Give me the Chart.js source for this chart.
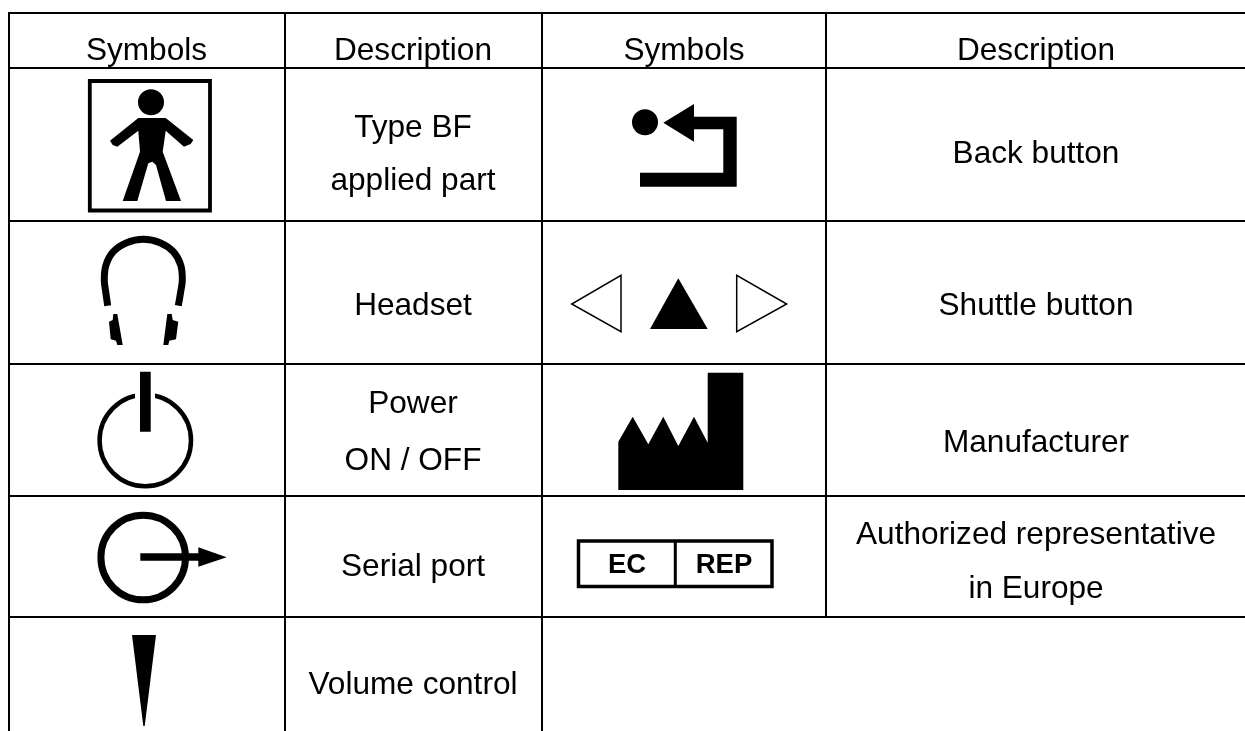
<!DOCTYPE html>
<html>
<head>
<meta charset="utf-8">
<style>html,body{margin:0;padding:0;background:#fff}canvas{display:block}</style>
<script src="https://cdn.jsdelivr.net/npm/chart.js@4"></script>
</head>
<body>
<div style="width:1245px;height:731px"><canvas id="c"></canvas></div>
<script>
// ---- table text ----
const headerLabels = ['Symbols', 'Description', 'Symbols', 'Description'];
const leftDescriptions = [['Type BF', 'applied part'], ['Headset'], ['Power', 'ON / OFF'], ['Serial port'], ['Volume control']];
const rightDescriptions = [['Back button'], ['Shuttle button'], ['Manufacturer'], ['Authorized representative', 'in Europe']];
const repLabels = ['EC', 'REP'];

// ---- table structure, in picture units ----
const columnCentres = [146.5, 413, 684, 1036];
const headerBaseline = [60];
const leftBaselines = [[137, 190], [314.5], [413, 470], [576], [694]];
const rightBaselines = [[162.5], [314.5], [452], [544, 598]];
const repCentres = [627, 724];
const repBaseline = 572.5;

const rowRules = [13, 68, 221, 364, 496, 617];
const ruleLeft = 8, ruleRight = 1245;
const fullColumnRules = [9, 285, 542];
const partColumnRule = 826;
const ruleTop = 12, tableBottom = 731, partRuleBottom = 617;

// ---- symbols, in picture units ----
const personBox = [[150,81],[210,81],[210,210.5],[89.8,210.5],[89.8,81],[150,81],[160,81]];
const personHead = [[151,102.3]];
const personBody = [[138.3,118],[165.7,118],[193.3,140],[190.7,144],[184,146.7],[165.7,130.7],[162.7,151.7],[181,201],[166,201],[156,165],[152.3,161.7],[148.3,163.3],[137.3,201],[122.7,201],[140,151.7],[138.3,130.7],[117.3,146.7],[112.7,145],[110,140.7],[138.3,118]];
const headsetBand = [[107.7,305.7],[105.7,291.7],[104.3,280],[106,265],[113.3,251.7],[126.7,242.7],[143.3,239.3],[160,242.7],[173.3,251.7],[180.7,265],[182.3,280],[180.7,291.7],[178.3,305.7]];
const headsetLeft = [[113.3,314],[117.3,314],[122.7,345],[117.3,345],[116,340.7],[110.7,339.3],[109,321.7],[112.7,320],[113.3,314]];
const headsetRight = [[167.3,314],[171.7,314],[172.7,320],[178.3,321.7],[176,339.3],[169.3,340.7],[168.3,345],[163.3,345],[167.3,314]];
const powerRing = [[145.3,440.5]];
const powerGap = [[135,388],[155,388],[155,406],[135,406],[135,388]];
const powerBar = [[140,371.7],[150.7,371.7],[150.7,431.7],[140,431.7],[140,371.7]];
const serialRing = [[143.2,557.5]];
const serialShaft = [[140.3,553.3],[200,553.3],[200,560.7],[140.3,560.7],[140.3,553.3]];
const serialHead = [[198.3,547.3],[226.7,557.3],[198.3,566.7],[198.3,547.3]];
const volumeWedge = [[132,635],[156,635],[144.7,726],[143.3,726],[132,635]];
const backDot = [[645,122.3]];
const backHead = [[663.3,122.7],[694,104],[694,141.7],[663.3,122.7]];
const backPath = [[694,116.7],[736.7,116.7],[736.7,186.7],[640,186.7],[640,172.7],[723.3,172.7],[723.3,129.3],[694,129.3],[694,116.7]];
const shuttleLeft = [[621,300],[621,331.7],[571.7,304],[621,275.3],[621,300],[621,310]];
const shuttleUp = [[678.3,278.3],[707.7,329],[650,329],[678.3,278.3]];
const shuttleRight = [[736.7,300],[736.7,275.3],[786.7,304],[736.7,331.7],[736.7,300],[736.7,290]];
const factory = [[618.3,490],[618.3,441.7],[632.7,416.7],[648.3,444.3],[663.3,416.7],[678.3,446],[694,416.7],[707.7,442.7],[707.7,372.7],[743.3,372.7],[743.3,490],[618.3,490]];
const repBox = [[630,541],[772,541],[772,586.5],[578.5,586.5],[578.5,541],[630,541],[640,541]];
const repDivider = [[675.3,541],[675.3,586.5]];

const pts = a => a.map(p => ({x: p[0], y: p[1]}));
const base = {showLine: true, pointRadius: 0, pointHoverRadius: 0, borderColor: '#000', fill: false, tension: 0, clip: false};
const stroke = (a, w, extra) => Object.assign({}, base, {data: pts(a), borderWidth: w, borderCapStyle: 'butt', borderJoinStyle: 'miter'}, extra || {});
const solid = (a, colour) => Object.assign({}, base, {data: pts(a), borderWidth: 0, backgroundColor: colour || '#000', fill: 'shape'});
const disc = (a, r) => Object.assign({}, base, {data: pts(a), showLine: false, pointRadius: r, pointBackgroundColor: '#000', pointBorderColor: '#000', pointBorderWidth: 0});
const ring = (a, r, w) => Object.assign({}, base, {data: pts(a), showLine: false, pointRadius: r, pointBackgroundColor: 'rgba(0,0,0,0)', pointBorderColor: '#000', pointBorderWidth: w});

const rules = [];
rowRules.forEach(y => rules.push(stroke([[ruleLeft, y], [ruleRight, y]], 2)));
fullColumnRules.forEach(x => rules.push(stroke([[x, ruleTop], [x, tableBottom]], 2)));
rules.push(stroke([[partColumnRule, ruleTop], [partColumnRule, partRuleBottom]], 2));

const painted = rules.concat([
  stroke(personBox, 3.8), disc(personHead, 13), solid(personBody),
  stroke(headsetBand, 7, {tension: 0.4}), solid(headsetLeft), solid(headsetRight),
  ring(powerRing, 45.7, 4.5), solid(powerGap, '#fff'), solid(powerBar),
  ring(serialRing, 42.3, 7), solid(serialShaft), solid(serialHead),
  solid(volumeWedge),
  disc(backDot, 13), solid(backHead), solid(backPath),
  stroke(shuttleLeft, 1.5), solid(shuttleUp), stroke(shuttleRight, 1.5),
  solid(factory),
  stroke(repBox, 3.5), stroke(repDivider, 3)
]);

const tableText = {
  id: 'tableText',
  afterDatasetsDraw(chart) {
    const {ctx, scales: {x, y}} = chart;
    ctx.save();
    ctx.fillStyle = '#000';
    ctx.textAlign = 'center';
    ctx.textBaseline = 'alphabetic';
    ctx.font = '31.6px "Liberation Sans", Arial, sans-serif';
    const put = (t, cx, by) => ctx.fillText(t, x.getPixelForValue(cx), y.getPixelForValue(by));
    headerLabels.forEach((t, i) => put(t, columnCentres[i], headerBaseline[0]));
    leftDescriptions.forEach((lines, r) => lines.forEach((t, i) => put(t, columnCentres[1], leftBaselines[r][i])));
    rightDescriptions.forEach((lines, r) => lines.forEach((t, i) => put(t, columnCentres[3], rightBaselines[r][i])));
    ctx.font = 'bold 27.5px "Liberation Sans", Arial, sans-serif';
    repLabels.forEach((t, i) => put(t, repCentres[i], repBaseline));
    ctx.restore();
  }
};

new Chart(document.getElementById('c'), {
  type: 'scatter',
  data: {datasets: painted.slice().reverse()},
  plugins: [tableText],
  options: {
    responsive: true, maintainAspectRatio: false, animation: false,
    layout: {padding: 0, autoPadding: false},
    events: [],
    plugins: {legend: {display: false}, tooltip: {enabled: false}, title: {display: false}},
    scales: {
      x: {type: 'linear', min: 0, max: 1245, display: false},
      y: {type: 'linear', min: 0, max: 731, reverse: true, display: false}
    }
  }
});
</script>
</body>
</html>
